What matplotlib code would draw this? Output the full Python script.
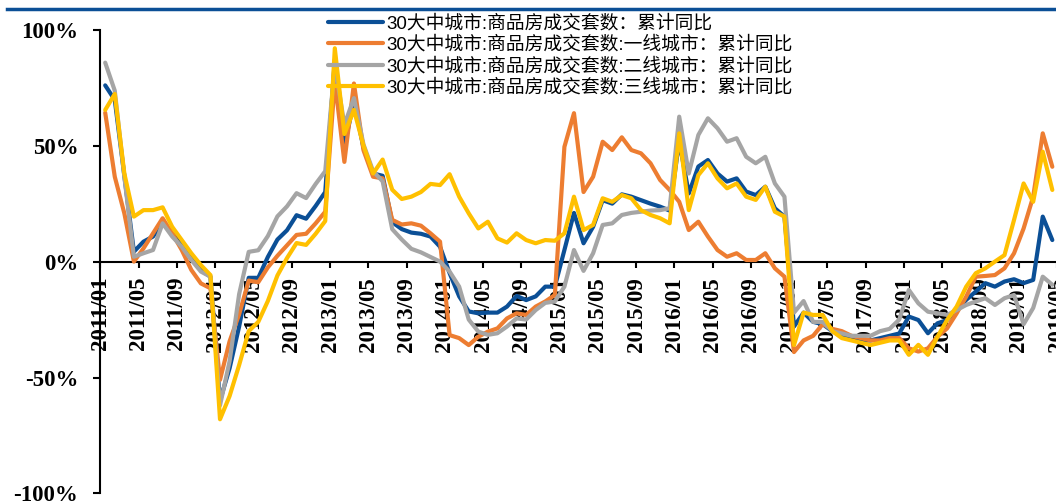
import matplotlib
matplotlib.use('Agg')
import matplotlib.pyplot as plt
from matplotlib.lines import Line2D
import numpy as np

# monthly data, 2011/01 .. 2019/04 (cumulative YoY, %)
tick_labels = ["2011/01", "2011/05", "2011/09", "2012/01", "2012/05", "2012/09",
               "2013/01", "2013/05", "2013/09", "2014/01", "2014/05", "2014/09",
               "2015/01", "2015/05", "2015/09", "2016/01", "2016/05", "2016/09",
               "2017/01", "2017/05", "2017/09", "2018/01", "2018/05", "2018/09",
               "2019/01", "2019/05"]

total = [76, 69.7, 37, 4.3, 8.6, 10.8, 17, 12, 8, 1.5, -3.6, -6.5,
         -60, -46, -28, -7, -7, 2, 9.5, 13.5, 20, 18.5, 24, 30,
         87, 50, 69, 49, 38, 37, 17, 14, 12.5, 12, 10.8, 6.4,
         -5, -15, -21.5, -22.3, -22, -22, -19.4, -14.8, -16.6, -15, -10.8, -10.8,
         5, 21, 7.9, 15, 26.5, 25, 29, 28, 26.5, 25, 23.7, 22,
         52, 29.4, 41, 43.8, 38, 34.5, 35.9, 30.2, 28.7, 32.3, 23, 19.4,
         -28, -22, -26, -27, -30, -32, -33, -34, -34, -33, -32, -31,
         -23.7, -25.2, -30.9, -26.6, -25.2, -20.9, -16.5, -12.9, -9.3, -10.8, -8.6, -7.6,
         -9.3, -7.9, 19.4, 9.3]

tier1 = [64.2, 36.6, 20.8, 0, 5.7, 12.2, 18.7, 12.2, 5, -3.6, -9.4, -11.5,
         -51, -34.4, -22.7, -8.2, -8.9, -2.5, 2.5, 7, 11.5, 12, 16.5, 21.5,
         78, 43, 76.8, 48, 36.6, 35.9, 18, 16, 16.5, 15.5, 12.2, 8.6,
         -31.7, -33, -36, -32.4, -30.2, -28.8, -24.5, -22.3, -23, -19.4, -17.2, -14.4,
         49.5, 64, 30, 36.6, 51.7, 48.1, 53.6, 48.1, 46.7, 42.4, 35.2, 30.9,
         25.8, 13.6, 17.2, 10.8, 5, 2.1, 3.6, 0.7, 0.7, 3.6, -2.9, -6.5,
         -39, -34, -32, -27, -29, -30, -32, -33, -34, -34, -33, -33,
         -37.4, -38.8, -37.4, -32.4, -28.8, -22.3, -15.1, -6.5, -6.2, -5.8, -2.9, 3.6,
         14.3, 28, 55.3, 40.9]

tier2 = [85.8, 73.7, 36.6, 2.1, 3.6, 5, 16.5, 10.8, 6.4, 0.7, -4.3, -6.5,
         -62, -43, -14, 4.2, 4.9, 11, 19.5, 23.8, 29.5, 27.4, 33.5, 39,
         85, 59, 70.5, 50.5, 39, 34.6, 14, 9.5, 5.5, 4, 2, 0,
         -4.3, -10.8, -25, -30.2, -31.6, -30.9, -28, -24.5, -25, -20.9, -17.8, -17.2,
         -10.8, 5, -4, 3.6, 15.8, 16.5, 20.1, 21, 21.5, 22, 22.2, 23,
         62.5, 38, 54.6, 61.8, 57.5, 51.7, 53.2, 45.2, 42.4, 45.2, 33.7, 28,
         -22, -17, -26, -26, -30, -31, -32, -32, -32, -30, -29, -25,
         -12.2, -18, -21.6, -22.3, -23, -20.9, -18.7, -17.2, -15.8, -18.7, -15.8, -14.4,
         -27, -20, -6.5, -10]

tier3 = [65.4, 72.3, 38, 19.4, 22.2, 22.2, 23.4, 15, 9.3, 3.6, -1.5, -5.8,
         -68, -58, -44.6, -30, -26, -17, -6, 1.5, 8, 7.2, 12, 17.5,
         92, 55, 65.4, 50, 38, 44, 31, 27, 28, 30, 33.5, 33,
         37.7, 28, 20.8, 14.3, 17.2, 10, 8.2, 12.2, 9.3, 7.9, 9.3, 9,
         12.2, 28, 13.6, 15.8, 27.3, 25.8, 28.7, 27.3, 22.2, 20.1, 18.7, 16.5,
         55.3, 22.2, 37.3, 42.4, 35.9, 31.6, 33.7, 28, 26.6, 32.3, 21.5, 19.4,
         -36, -22, -23, -23, -30, -33, -34, -35, -36, -35, -34, -34,
         -40.2, -35.9, -40.2, -32.4, -25.2, -19.4, -10.8, -5, -2.9, 0, 2.8, 18,
         33.7, 25.8, 47.4, 30.9]

labels = ["30大中城市:商品房成交套数：累计同比",
          "30大中城市:商品房成交套数:一线城市：累计同比",
          "30大中城市:商品房成交套数:二线城市：累计同比",
          "30大中城市:商品房成交套数:三线城市：累计同比"]
colors = ["#0B4F96", "#ED7D31", "#A5A5A5", "#FFC000"]

fig = plt.figure(figsize=(10.56, 5.01), dpi=100)
ax = fig.add_axes([0.0951, 0.015, 0.915, 0.9257])

x = np.arange(len(total)) + 0.5
for y, c, lab in zip([total, tier1, tier2, tier3], colors, labels):
    ax.plot(x, y, color=c, lw=3, label=lab, zorder=3,
            solid_capstyle='round', solid_joinstyle='round')

ax.set_xlim(0, 101)
ax.set_ylim(-100, 100)

ax.spines['top'].set_visible(False)
ax.spines['right'].set_visible(False)
ax.spines['bottom'].set_position(('data', 0))
for s in ['left', 'bottom']:
    ax.spines[s].set_linewidth(1.5)

ax.set_yticks([-100, -50, 0, 50, 100])
ax.set_yticklabels(["-100%", "-50%", "0%", "50%", "100%"])
ax.set_xticks(np.arange(0, 101, 4))
ax.set_xticklabels(tick_labels, rotation=90)

ax.tick_params(axis='y', direction='out', length=5, width=1.5, pad=11)
ax.tick_params(axis='x', direction='out', length=4, width=1.5, pad=7)
for t in ax.get_xticklabels() + ax.get_yticklabels():
    t.set_fontfamily('Liberation Serif')
    t.set_fontweight('bold')
    t.set_fontsize(16.5)

# blue rule along the top
fig.add_artist(Line2D([0.0066, 1.0], [1 - 9 / 501] * 2, color="#0B4F96", lw=2.5))

leg = ax.legend(loc='upper left', bbox_to_anchor=(0.3106, 0.971),
                bbox_transform=fig.transFigure, frameon=False,
                prop={'family': ['Liberation Sans', 'Noto Sans CJK SC'], 'size': 13.5},
                handlelength=2.93, handletextpad=0.2, labelspacing=0.2,
                borderpad=0, borderaxespad=0)

fig.savefig("out.png", dpi=100)
